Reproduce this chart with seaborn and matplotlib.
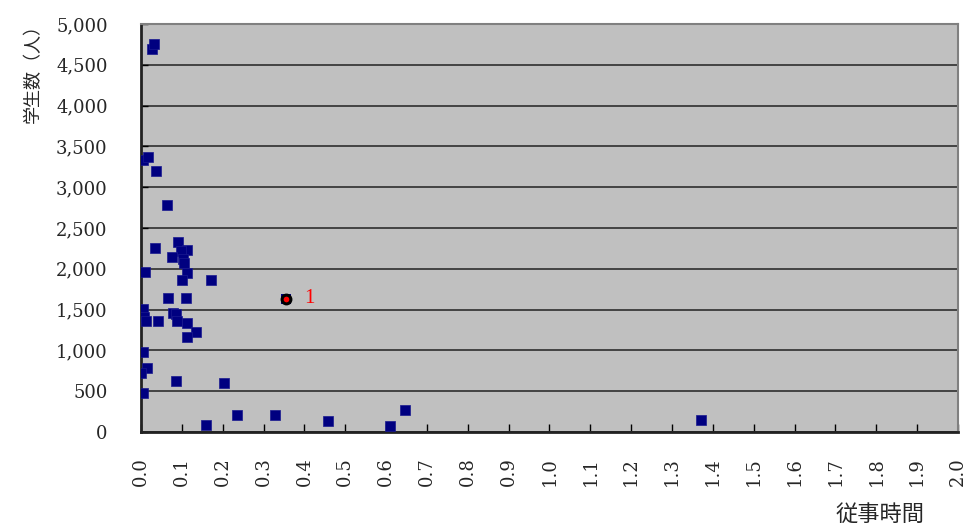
import matplotlib
matplotlib.use("Agg")
import matplotlib.pyplot as plt
import numpy as np
import pandas as pd
import seaborn as sns
from matplotlib.ticker import FuncFormatter

# 従事時間と学生数
hours = [0.026, 0.032, 0.004, 0.018, 0.037, 0.064, 0.034, 0.090,
         0.113, 0.099, 0.076, 0.102, 0.106, 0.009, 0.112, 0.101,
         0.172, 0.067, 0.109, 0.004, 0.007, 0.012, 0.042, 0.078,
         0.086, 0.087, 0.113, 0.135, 0.113, 0.004, 0.015, 0.000,
         0.086, 0.203, 0.006, 0.234, 0.329, 0.158, 0.457, 0.610,
         0.646, 1.372]
students = [4700, 4750, 3330, 3370, 3200, 2780, 2260, 2325,
            2225, 2215, 2140, 2115, 2075, 1960, 1950, 1860,
            1865, 1640, 1640, 1505, 1415, 1355, 1365, 1455,
            1445, 1355, 1330, 1230, 1165, 975, 785, 720,
            630, 600, 475, 210, 205, 80, 135, 75,
            270, 145]

hl_hours = [0.355]
hl_students = [1635]
hl_label = ["1"]

xticks = np.round(np.arange(0, 2.01, 0.1), 1)
yticks = list(range(0, 5001, 500))

df = pd.DataFrame({"hours": hours, "students": students})
df_hl = pd.DataFrame({"hours": hl_hours, "students": hl_students})

sns.set_style("white")
plt.rcParams["font.family"] = ["DejaVu Serif", "Noto Sans CJK JP", "DejaVu Sans"]

fig = plt.figure(figsize=(9.67, 5.28), dpi=100)
ax = fig.add_axes([0.1458, 0.1818, 0.8449, 0.7727])
ax.set_facecolor("#C0C0C0")

sns.scatterplot(data=df, x="hours", y="students", marker="s", s=55,
                color="#000080", edgecolor="#1a1a90", linewidth=0.5, ax=ax, zorder=3)
sns.scatterplot(data=df_hl, x="hours", y="students", marker="s", s=55,
                color="#000080", linewidth=0, ax=ax, zorder=4)
sns.scatterplot(data=df_hl, x="hours", y="students", marker="o", s=40,
                color="#ff0000", edgecolor="black", linewidth=2.2, ax=ax, zorder=5)
for hx, hy, lab in zip(hl_hours, hl_students, hl_label):
    ax.text(hx + 0.045, hy, lab, color="red", fontsize=15, va="center", ha="left",
            family="Liberation Serif")

ax.set_xlim(0, 2.0)
ax.set_ylim(0, 5000)
ax.set_xticks(xticks)
ax.set_yticks(yticks)
ax.xaxis.set_major_formatter(FuncFormatter(lambda v, p: f"{v:.1f}"))
ax.yaxis.set_major_formatter(FuncFormatter(lambda v, p: f"{int(v):,}"))
ax.tick_params(axis="x", direction="in", length=6, width=1, pad=18,
               labelsize=13, labelrotation=90, color="black", bottom=True)
ax.tick_params(axis="y", direction="in", length=5, width=1, pad=24,
               labelsize=13, color="black", left=True)

ax.grid(axis="y", color="#222222", linewidth=1.1)
ax.grid(axis="x", visible=False)
ax.set_axisbelow(True)

for side in ["top", "right"]:
    ax.spines[side].set_color("#808080")
    ax.spines[side].set_linewidth(1.5)
for side in ["left", "bottom"]:
    ax.spines[side].set_color("#222222")
    ax.spines[side].set_linewidth(2)

ax.set_xlabel("")
ax.set_ylabel("")
fig.text(0.034, 0.87, "学生数（人）", rotation=90, fontsize=13, ha="center", va="center")
fig.text(0.91, 0.025, "従事時間", fontsize=16, ha="center", va="center")

plt.savefig("out.png", dpi=100)
